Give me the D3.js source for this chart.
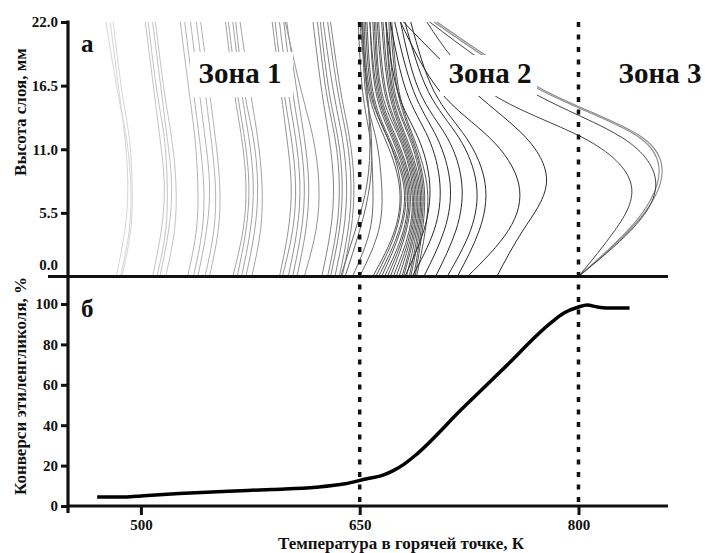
<!DOCTYPE html>
<html>
<head>
<meta charset="utf-8">
<script src="https://cdn.jsdelivr.net/npm/d3@7"></script>
<style>
body { margin: 0; background: #fff; }
svg text { font-weight: bold; fill: #111; }
</style>
</head>
<body>
<svg id="chart" width="705" height="553"></svg>
<script>
// bed heights (mm) at which every profile temperature was read
const heights = [0, 4, 8, 12, 16, 22];

// temperature profiles (K) at the heights above, one row per curve
const zone1First = [
    [486, 492, 493, 490, 484, 476],
    [483, 489, 491, 489, 485, 479],
    [487, 493, 494, 492, 487, 481]
];
const zone1Second = [
    [508, 514, 516, 513, 509, 503],
    [511, 517, 518, 516, 511, 505],
    [513, 519, 521, 518, 514, 508],
    [517, 523, 524, 521, 516, 510]
];
const zone1Third = [
    [532, 538, 539, 537, 533, 527],
    [536, 542, 543, 540, 536, 530],
    [539, 545, 547, 544, 540, 534],
    [544, 550, 551, 548, 544, 538],
    [547, 553, 554, 551, 547, 541]
];
const zone1Fourth = [
    [563, 570, 572, 569, 564, 558],
    [566, 572, 574, 571, 566, 560],
    [569, 575, 577, 574, 569, 563],
    [572, 578, 580, 577, 571, 565],
    [576, 582, 583, 580, 575, 568]
];
const zone1Fifth = [
    [595, 601, 603, 600, 596, 590],
    [597, 604, 606, 603, 598, 592],
    [601, 607, 609, 606, 601, 595],
    [604, 610, 612, 609, 604, 598],
    [607, 613, 615, 612, 607, 600],
    [612, 620, 622, 618, 610, 599]
];
const zone1Sixth = [
    [624, 630, 632, 629, 624, 618],
    [628, 634, 636, 633, 627, 621],
    [630, 636, 638, 635, 629, 623],
    [633, 639, 641, 638, 632, 625],
    [636, 642, 644, 641, 635, 628],
    [638, 644, 646, 643, 637, 630]
];
const transition = [
    [645, 657, 659, 657, 652, 649],
    [650, 663, 665, 661, 654, 652],
    [637, 647, 655, 657, 655, 651],
    [640, 650, 657, 658, 655, 650]
];
const zone2Dense = [
    [659, 674, 677, 667, 656, 652],
    [661, 675, 678, 669, 657, 653],
    [663, 677, 680, 669, 658, 654],
    [665, 678, 681, 670, 659, 655],
    [667, 680, 682, 672, 661, 657],
    [669, 681, 683, 673, 662, 657],
    [671, 682, 684, 674, 663, 659],
    [673, 684, 685, 675, 664, 660],
    [675, 685, 686, 677, 665, 661],
    [677, 686, 687, 678, 667, 662],
    [679, 687, 688, 679, 668, 663],
    [680, 688, 689, 680, 670, 665],
    [682, 689, 690, 681, 671, 666],
    [684, 690, 691, 682, 672, 668],
    [685, 691, 692, 684, 673, 668],
    [687, 692, 693, 685, 674, 670],
    [688, 693, 694, 686, 676, 671],
    [689, 695, 696, 687, 677, 672]
];
const zone2Late = [
    [681, 694, 698, 690, 676, 668],
    [686, 701, 705, 697, 682, 671],
    [694, 708, 712, 703, 687, 674],
    [702, 716, 720, 710, 691, 678],
    [710, 726, 730, 718, 697, 681],
    [717, 732, 736, 723, 701, 685],
    [724, 752, 759, 739, 705, 678],
    [744, 762, 778, 764, 728, 680]
];
const zone3Outer = [
    [800, 835, 856, 844, 778, 703],
    [800, 834, 854, 842, 776, 701]
];
const zone3Inner = [
    [800, 836, 853, 830, 767, 698],
    [800, 825, 836, 803, 738, 696]
];

// ethylene glycol conversion (%) vs hot spot temperature (K)
const convTemp  = [470, 490, 500, 510, 530, 560, 590, 620, 640, 655, 665, 673, 680, 688, 720, 750, 780, 790, 800, 806, 813, 820, 835];
const convValue = [4.5, 4.5, 5, 5.5, 6.3, 7.3, 8.2, 9.3, 11, 13.5, 15, 17.5, 20.5, 25, 48, 69, 90, 95.5, 98.5, 99.5, 98.5, 98, 98];

const xTicks = [500, 650, 800];
const yTicksTop = [0, 5.5, 11, 16.5, 22];
const yTicksBottom = [0, 20, 40, 60, 80, 100];
const zoneBorders = [650, 800];
const zoneNames = ['Зона 1', 'Зона 2', 'Зона 3'];

// pick the first serif face that is really installed
function pickFont(candidates) {
    var ctx = document.createElement('canvas').getContext('2d');
    var sample = 'Зона Высота слоя 0123 abcxyz';
    ctx.font = 'bold 20px monospace';
    var base = ctx.measureText(sample).width;
    for (var i = 0; i < candidates.length; i++) {
        ctx.font = "bold 20px '" + candidates[i] + "', monospace";
        if (Math.abs(ctx.measureText(sample).width - base) > 0.5) return candidates[i];
    }
    return 'serif';
}
var fontName = pickFont(['Liberation Serif', 'Times New Roman', 'Tinos', 'DejaVu Serif', 'Noto Serif', 'FreeSerif']);

const svg = d3.select('#chart')
    .style('font-family', "'" + fontName + "', serif");

const x = d3.scaleLinear().domain([450, 860]).range([68, 666]);
const yTop = d3.scaleLinear().domain([0, 22]).range([276.5, 22]);
const yBot = d3.scaleLinear().domain([0, 100]).range([506, 304]);

// profile curves
var profileLine = d3.line()
    .x(function(d) { return x(d[0]); })
    .y(function(d) { return yTop(d[1]); })
    .curve(d3.curveNatural);

var curveGroups = [
    {rows: zone1First,  color: '#d6d6d6', width: 1},
    {rows: zone1Second, color: '#c4c4c4', width: 1},
    {rows: zone1Third,  color: '#b4b4b4', width: 1},
    {rows: zone1Fourth, color: '#a4a4a4', width: 1},
    {rows: zone1Fifth,  color: '#959595', width: 1},
    {rows: zone1Sixth,  color: '#858585', width: 1},
    {rows: transition,  color: '#6a6a6a', width: 1},
    {rows: zone2Dense,  color: '#444', width: 0.9},
    {rows: zone2Late,   color: '#2a2a2a', width: 1},
    {rows: zone3Outer,  color: '#8a8a8a', width: 1.1},
    {rows: zone3Inner,  color: '#444', width: 1}
];

curveGroups.forEach(function(g) {
    svg.append('g')
      .selectAll('path')
        .data(g.rows)
      .enter().append('path')
        .attr('d', function(row) {
            return profileLine(row.map(function(t, i) { return [t, heights[i]]; }));
        })
        .attr('fill', 'none')
        .attr('stroke', g.color)
        .attr('stroke-width', g.width);
});

// white boxes behind the zone names hide the curves
var zoneLabels = [
    {box: [190, 52, 103, 45], cx: 240, name: zoneNames[0]},
    {box: [440, 55, 97, 41],  cx: 490, name: zoneNames[1]},
    {box: [610, 55, 95, 41],  cx: 660, name: zoneNames[2]}
];
zoneLabels.forEach(function(z) {
    svg.append('rect')
        .attr('x', z.box[0]).attr('y', z.box[1])
        .attr('width', z.box[2]).attr('height', z.box[3])
        .attr('fill', '#fff');
    svg.append('text')
        .attr('x', z.cx).attr('y', 83)
        .attr('text-anchor', 'middle')
        .style('font-size', '29px')
        .text(z.name);
});

// conversion curve
var convLine = d3.line()
    .x(function(d) { return x(d[0]); })
    .y(function(d) { return yBot(d[1]); })
    .curve(d3.curveMonotoneX);

svg.append('path')
    .attr('d', convLine(convTemp.map(function(t, i) { return [t, convValue[i]]; })))
    .attr('fill', 'none')
    .attr('stroke', '#000')
    .attr('stroke-width', 3.5);

// zone borders
svg.selectAll('.border')
    .data(zoneBorders)
  .enter().append('line')
    .attr('class', 'border')
    .attr('x1', function(d) { return x(d); })
    .attr('x2', function(d) { return x(d); })
    .attr('y1', yTop(22))
    .attr('y2', yBot(0))
    .attr('stroke', '#111')
    .attr('stroke-width', 3.5)
    .attr('stroke-dasharray', '5,7.5');

// axes
function styleAxis(g) {
    g.attr('font-family', null);
    g.select('.domain').remove();
    g.selectAll('.tick line').attr('stroke', '#111').attr('stroke-width', 3);
    g.selectAll('.tick text').style('font-size', '15px').attr('fill', '#111');
}

svg.append('g')
    .attr('transform', 'translate(68,0)')
    .call(d3.axisLeft(yTop).tickValues(yTicksTop).tickSize(7).tickPadding(3).tickFormat(d3.format('.1f')))
    .call(styleAxis)
    .call(function(g) {
        var zero = g.selectAll('.tick').filter(function(d) { return d === 0; });
        zero.select('line').remove();
        zero.select('text').attr('y', -12);
    });

svg.append('g')
    .attr('transform', 'translate(68,0)')
    .call(d3.axisLeft(yBot).tickValues(yTicksBottom).tickSize(7).tickPadding(3))
    .call(styleAxis);

svg.append('g')
    .attr('transform', 'translate(0,506)')
    .call(d3.axisBottom(x).tickValues(xTicks).tickSize(9).tickPadding(4))
    .call(styleAxis);

// axis lines
svg.append('line')
    .attr('x1', 68).attr('x2', 68).attr('y1', 20.5).attr('y2', 513)
    .attr('stroke', '#111').attr('stroke-width', 3.2);
svg.append('line')
    .attr('x1', 48).attr('x2', 668).attr('y1', yTop(0)).attr('y2', yTop(0))
    .attr('stroke', '#111').attr('stroke-width', 3.2);
svg.append('line')
    .attr('x1', 66.5).attr('x2', 668).attr('y1', yBot(0)).attr('y2', yBot(0))
    .attr('stroke', '#111').attr('stroke-width', 3.2);

// panel letters
svg.append('text').attr('x', 81).attr('y', 52).style('font-size', '25px').text('а');
svg.append('text').attr('x', 81).attr('y', 317).style('font-size', '25px').text('б');

// axis titles
svg.append('text')
    .attr('transform', 'translate(26,112) rotate(-90)')
    .attr('text-anchor', 'middle')
    .style('font-size', '17px')
    .text('Высота слоя, мм');
svg.append('text')
    .attr('transform', 'translate(26,386) rotate(-90)')
    .attr('text-anchor', 'middle')
    .style('font-size', '17px')
    .text('Конверси этиленгликоля, %');
svg.append('text')
    .attr('x', 401).attr('y', 549)
    .attr('text-anchor', 'middle')
    .style('font-size', '17px')
    .text('Температура в горячей точке, К');
</script>
</body>
</html>
